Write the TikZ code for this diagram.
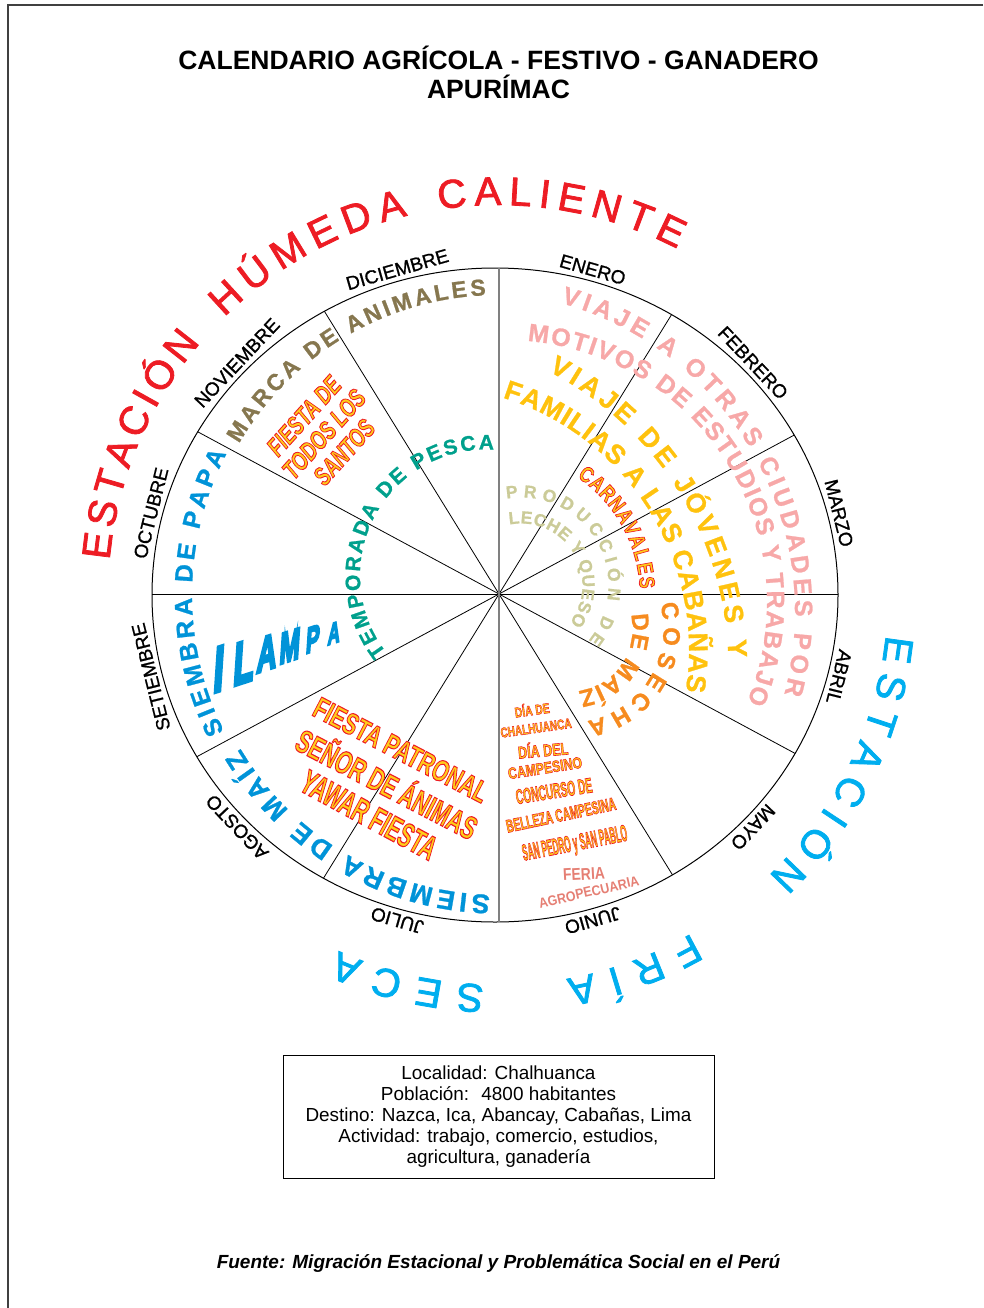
\documentclass[tikz,border=0pt]{standalone}
\usepackage{fontspec}
\setmainfont{Liberation Sans}
\newfontfamily\monthfont{Liberation Sans}[FakeBold=1]
\newfontfamily\seasonfont{Liberation Sans}[FakeBold=2]
\newfontfamily\heavyfont{Liberation Sans Bold}[FakeBold=1]
\newfontfamily\festfont{Liberation Sans Bold}[FakeBold=3.5]
\newfontfamily\festitfont{Liberation Sans Bold Italic}[FakeBold=3.5]
\newfontfamily\lampafont{Liberation Sans Bold}[FakeBold=7]
\usepackage{xcolor}
\usepackage{tikz}
\usetikzlibrary{decorations.text}

\definecolor{seasonred}{HTML}{ED1C24}
\definecolor{seasoncyan}{HTML}{00AEEF}
\definecolor{animal}{HTML}{86774F}
\definecolor{papa}{HTML}{0093D8}
\definecolor{pesca}{HTML}{00A08C}
\definecolor{viajepink}{HTML}{F7A8A8}
\definecolor{viajeyellow}{HTML}{FFC20E}
\definecolor{leche}{HTML}{CBCB98}
\definecolor{maiz}{HTML}{F68B1F}
\definecolor{feria}{HTML}{E57F74}

\newcommand\sz[1]{\fontsize{#1}{#1}\selectfont}
% relleno amarillo con borde rojo (fill / stroke del texto)
\newcommand\fest[1]{\special{pdf:bcolor [1 0.8 0.1] [0.93 0.11 0.14]}#1\special{pdf:ecolor}}

\tikzset{
  month/.style={anchor=base, font=\monthfont\sz{19}, inner sep=0pt},
  arctext/.style n args={3}{decorate, decoration={text along path,
      text color=#1, text align={fit to path}, text={|#2|#3}}},
  fest/.style={inner sep=0pt},
  lampa/.style={text=papa, inner sep=0pt, rotate=18, xslant=0.4, xscale=0.62},
}

\begin{document}
\begin{tikzpicture}[x=1pt, y=1pt]
    \useasboundingbox (0,0) rectangle (983,-1308);

    % =================================================================
    % 1. MARCO Y TITULO
    % =================================================================
    \draw[line width=1.2, black!75] (983,-5) -- (8,-5) -- (8,-1308);
    \node[anchor=base, font=\bfseries\sz{26.5}] (title) at (498.5,-70)
        {CALENDARIO AGRÍCOLA - FESTIVO - GANADERO};
    \node[anchor=base, font=\bfseries\sz{26.5}] (region) at (498.5,-99) {APURÍMAC};

    % =================================================================
    % 2. CIRCULO, RADIOS Y MESES
    % =================================================================
    \draw[line width=1] (495,-595) ellipse [x radius=343, y radius=327];
    \coordinate (hub) at (499,-594);
    \begin{scope}
        \clip (495,-595) ellipse [x radius=343, y radius=327];
        \foreach \a in {0,28.3,58.3,121.7,151.7,180,208.3,238.3,301.7,331.7} {
            \draw[line width=0.8] (hub) -- ++(\a:420);
        }
        \draw[line width=1.5, gray] (hub) ++(0,420) -- ++(0,-840);
    \end{scope}

    \begin{scope}[shift={(495,-595)}]
        \foreach \mes/\ang [count=\i] in {ENERO/74, FEBRERO/43.3, MARZO/14,
            ABRIL/-14, MAYO/-43.3, JUNIO/-74, JULIO/-106, AGOSTO/-136.7,
            SETIEMBRE/-166, OCTUBRE/166, NOVIEMBRE/136.7, DICIEMBRE/106} {
            \node[month, rotate=\ang-90] (m\i) at ({348*cos(\ang)},{332*sin(\ang)}) {\mes};
        }
    \end{scope}

    % =================================================================
    % 3. ESTACIONES Y TEXTOS EN ARCO (centro del circulo)
    % =================================================================
    \begin{scope}[shift={(498,-595)}]
        \path[arctext={seasonred}{\seasonfont\sz{40}}{ESTACIÓN}] (174.9:390) arc[start angle=174.9, end angle=139.7, radius=390];
        \path[arctext={seasonred}{\seasonfont\sz{40}}{HÚMEDA}] (134.6:390) arc[start angle=134.6, end angle=103.4, radius=390];
        \path[arctext={seasonred}{\seasonfont\sz{40}}{CALIENTE}] (98.7:390) arc[start angle=98.7, end angle=62.6, radius=390];
        \path[arctext={seasoncyan}{\seasonfont\sz{40}}{ESTACIÓN}] (-5.9:390) arc[start angle=-5.9, end angle=-46.1, radius=390];
        \path[arctext={seasoncyan}{\seasonfont\sz{40}}{FRÍA}] (-60.2:390) arc[start angle=-60.2, end angle=-79.9, radius=390];
        \path[arctext={seasoncyan}{\seasonfont\sz{40}}{SECA}] (-92:390) arc[start angle=-92, end angle=-114.1, radius=390];

        \path[arctext={animal}{\heavyfont\sz{23}}{MARCA DE ANIMALES}] (149.7:300) arc[start angle=149.7, end angle=92.3, radius=300];
        \path[arctext={papa}{\heavyfont\sz{25}}{SIEMBRA DE PAPA}] (206.5:306) arc[start angle=206.5, end angle=152.5, radius=306];
        \path[arctext={papa}{\heavyfont\sz{27}}{SIEMBRA DE MAÍZ}] (-91.5:300) arc[start angle=-91.5, end angle=-149.2, radius=300];

        % Carnavales, letra por letra
        \foreach \ch [count=\i] in {C,A,R,N,A,V,A,L,E,S} {
            \pgfmathsetmacro\ang{53.6-5.42*(\i-1)}
            \node[fest, font=\festfont\sz{22}, anchor=base, rotate=\ang-90, xscale=0.8]
                (car\i) at (\ang:142) {\fest{\ch}};
        }
    \end{scope}

    % arcos con centro propio
    \begin{scope}[shift={(486,-575.5)}]
        \path[arctext={pesca}{\heavyfont\sz{21}}{TEMPORADA DE PESCA}] (217.7:126) arc[start angle=217.7, end angle=86.4, radius=126];
    \end{scope}
    \begin{scope}[shift={(474,-612)}]
        \path[arctext={viajepink}{\heavyfont\sz{25}}{VIAJE A OTRAS CIUDADES POR}] (74.3:321) arc[start angle=74.3, end angle=-14.8, radius=321];
    \end{scope}
    \begin{scope}[shift={(505,-602)}]
        \path[arctext={viajepink}{\heavyfont\sz{25}}{MOTIVOS DE ESTUDIOS Y TRABAJO}] (85.1:262) arc[start angle=85.1, end angle=-22.5, radius=262];
    \end{scope}
    \begin{scope}[shift={(396.5,-666.4)}]
        \path[arctext={viajeyellow}{\heavyfont\sz{27}}{VIAJE DE JÓVENES Y}] (62.8:332) arc[start angle=62.8, end angle=1.5, radius=332];
    \end{scope}
    \begin{scope}[shift={(425,-650)}]
        \path[arctext={viajeyellow}{\heavyfont\sz{27}}{FAMILIAS A LAS CABAÑAS}] (72.9:264) arc[start angle=72.9, end angle=-9, radius=264];
    \end{scope}
    \begin{scope}[shift={(521,-585)}]
        \path[arctext={leche}{\heavyfont\sz{17.5}}{PRODUCCIÓN DE}] (99.5:87.5) arc[start angle=99.5, end angle=-39.4, radius=87.5];
        \path[arctext={leche}{\heavyfont\sz{17.5}}{LECHE Y QUESO}] (101:61.5) arc[start angle=101, end angle=-38, radius=61.5];
    \end{scope}
    \begin{scope}[shift={(570,-629)}]
        \path[arctext={maiz}{\heavyfont\sz{24}}{COSECHA}] (15.7:93.5) arc[start angle=15.7, end angle=-79.5, radius=93.5];
        \path[arctext={maiz}{\heavyfont\sz{24}}{DE MAÍZ}] (13.5:62.5) arc[start angle=13.5, end angle=-82.5, radius=62.5];
    \end{scope}

    % =================================================================
    % 4. TEXTOS RECTOS DENTRO DE LOS SECTORES
    % =================================================================
    % I LAMPA en perspectiva
    \foreach \ch/\x/\y/\s [count=\i] in {I/219/669/60, L/244/662/56, A/267/653/46,
        M/290/646/41, P/313/639/34, A/334/633/28} {
        \node[lampa, font=\lampafont\sz{\s}] (lampa\i) at (\x,-\y) {\ch};
    }

    % fiestas
    \node[fest, font=\festitfont\fontsize{26}{27}\selectfont, align=center,
        rotate=48, xscale=0.72] (santos) at (324,-434)
        {\fest{FIESTA DE}\\\fest{TODOS LOS}\\\fest{SANTOS}};
    \node[fest, font=\festfont\sz{30}, rotate=-27.5, xscale=0.7] (patronal) at (401,-750)
        {\fest{FIESTA PATRONAL}};
    \node[fest, font=\festfont\sz{32}, rotate=-27.5, xscale=0.66] (animas) at (388,-782)
        {\fest{SEÑOR DE ÁNIMAS}};
    \node[fest, font=\festfont\sz{34}, rotate=-28.5, xscale=0.6] (yawar) at (369,-815)
        {\fest{YAWAR FIESTA}};

    % fiestas de junio
    \foreach \txt/\x/\y/\s/\xs/\r [count=\i] in {DÍA DE/532/709/14/0.74/8,
        CHALHUANCA/536/728/14/0.72/8, DÍA DEL/543/749/17/0.74/5,
        CAMPESINO/545/768/16/0.77/9, CONCURSO DE/554/791/21/0.49/9,
        BELLEZA CAMPESINA/561/815/18/0.57/12, SAN PEDRO y SAN PABLO/575/845/23/0.36/11} {
        \node[fest, font=\festfont\sz{\s}, rotate=\r, xscale=\xs] (jun\i) at (\x,-\y)
            {\fest{\txt}};
    }
    \node[text=feria, font=\bfseries\sz{17}, rotate=3, xscale=0.82, inner sep=0pt] (feria) at (584,-874) {FERIA};
    \node[text=feria, font=\bfseries\sz{14}, rotate=13, xscale=0.89, inner sep=0pt] (agro) at (589,-892) {AGROPECUARIA};

    % =================================================================
    % 5. RECUADRO Y FUENTE
    % =================================================================
    \node[draw, line width=1, minimum width=431, minimum height=123, inner sep=0pt,
        align=center, font=\fontsize{18.9}{21}\selectfont] (info) at (498.5,-1116.5)
        {Localidad: Chalhuanca\\Población: \ 4800 habitantes\\Destino: Nazca, Ica, Abancay, Cabañas, Lima\\
         Actividad: trabajo, comercio, estudios,\\agricultura, ganadería};
    \node[anchor=base, font=\bfseries\itshape\sz{19}] (source) at (498.5,-1268)
        {Fuente: Migración Estacional y Problemática Social en el Perú};

\end{tikzpicture}
\end{document}
